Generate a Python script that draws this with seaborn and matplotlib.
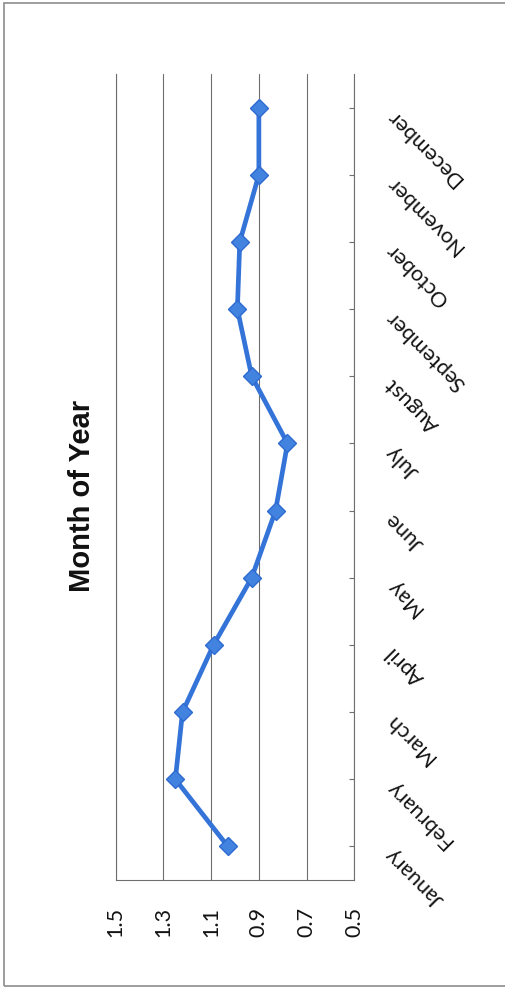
import numpy as np
import pandas as pd
import matplotlib
matplotlib.use("Agg")
import matplotlib.pyplot as plt
import matplotlib.transforms as mtransforms
from matplotlib.patches import Rectangle
import seaborn as sns

# Monthly ratio values (category axis runs bottom-to-top, value axis right-to-left)
months = ["January", "February", "March", "April", "May", "June",
          "July", "August", "September", "October", "November", "December"]
ratio = [1.03, 1.25, 1.22, 1.09, 0.93, 0.83, 0.78, 0.93, 0.99, 0.98, 0.90, 0.90]
value_ticks = [0.5, 0.7, 0.9, 1.1, 1.3, 1.5]
value_labels = ["0.5", "0.7", "0.9", "1.1", "1.3", "1.5"]
title = "Month of Year"

sns.set_theme(style="white")
plt.rcParams["font.family"] = ["Lato", "DejaVu Sans"]

GRID = "#6e6e6e"
BLUE = "#3474d8"
TEXT = "#141414"

fig = plt.figure(figsize=(5.05, 9.89), dpi=100)
fig.patch.set_facecolor("white")
ax = fig.add_axes([0.2291, 0.1102, 0.4725, 0.8150])

df = pd.DataFrame({"month_pos": np.arange(len(months)), "ratio": ratio})
sns.lineplot(data=df, x="ratio", y="month_pos", sort=False, estimator=None,
             ax=ax, color=BLUE, lw=3.4, marker="D", markersize=9.5,
             markerfacecolor="#4283e0", markeredgecolor="#2e6bd0",
             markeredgewidth=1)

ax.set_xlim(1.5, 0.5)
ax.set_ylim(-0.5, len(months) - 0.5)
ax.set_xlabel("")
ax.set_ylabel("")

# value axis: vertical gridlines, rotated labels below
ax.set_xticks(value_ticks, labels=value_labels)
ax.xaxis.grid(True, color=GRID, lw=0.8)
ax.yaxis.grid(False)
ax.set_axisbelow(True)
ax.tick_params(axis="x", length=0, pad=19.5, labelsize=15.5,
               labelrotation=90, labelcolor=TEXT)

for side in ["left", "right", "bottom"]:
    ax.spines[side].set_visible(True)
    ax.spines[side].set_color(GRID)
    ax.spines[side].set_linewidth(0.8)
ax.spines["top"].set_visible(False)

# category axis on the right with slanted month names
ax.yaxis.tick_right()
ax.set_yticks(np.arange(len(months)), labels=months)
ax.tick_params(axis="y", direction="in", length=3.5, width=0.8, color=GRID,
               pad=25, labelsize=15.5, labelcolor=TEXT, right=True, left=False)
shift = mtransforms.ScaledTranslation(0, -5 / 100, fig.dpi_scale_trans)
for lbl in ax.get_yticklabels():
    lbl.set_rotation(135)
    lbl.set_rotation_mode("anchor")
    lbl.set_ha("right")
    lbl.set_va("center")
    lbl.set_transform(lbl.get_transform() + shift)

fig.text(0.162, 0.4985, title, rotation=90, ha="center", va="center",
         fontsize=21, fontweight="bold", color="#111111",
         family=["Liberation Sans", "DejaVu Sans"])

# chart-area border
fig.add_artist(Rectangle((4 / 505, 1 - 986 / 989), 1.2, 983 / 989,
                         transform=fig.transFigure, fill=False,
                         ec="#8c8c8c", lw=1.2))

fig.savefig("out.png", dpi=100, facecolor="white")
